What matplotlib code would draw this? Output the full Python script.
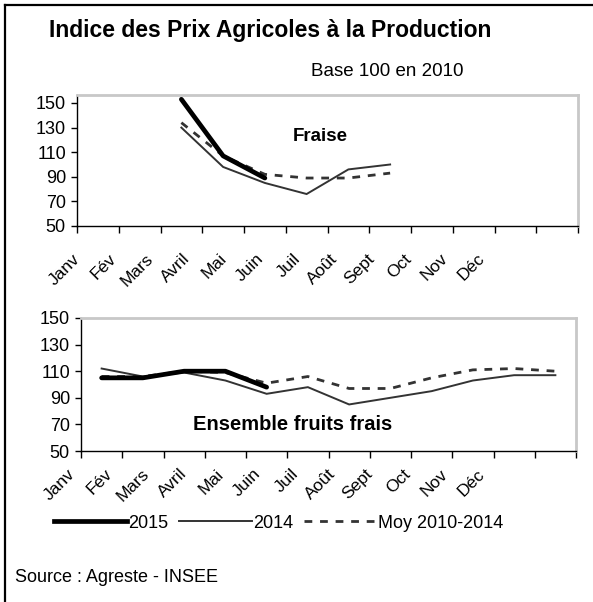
import matplotlib
matplotlib.use("Agg")
import matplotlib.pyplot as plt
from matplotlib.lines import Line2D
from matplotlib.transforms import offset_copy
import numpy as np

plt.rcParams['font.family'] = ['Liberation Sans', 'DejaVu Sans']

mois = ["Janv", "Fév", "Mars", "Avril", "Mai", "Juin", "Juil", "Août",
        "Sept", "Oct", "Nov", "Déc"]
yticks = [50, 70, 90, 110, 130, 150]

# Fraise (Mars -> ...)
fraise_2015 = [None, None, 153, 107, 89, None, None, None, None, None, None, None]
fraise_2014 = [None, None, 130, 98, 85, 76, 96, 100, None, None, None, None]
fraise_moy = [None, None, 134, 107, 92, 89, 89, 93, None, None, None, None]

# Ensemble fruits frais
fruits_2015 = [105, 105, 110, 110, 98, None, None, None, None, None, None, None]
fruits_2014 = [112, 106, 109, 103, 93, 98, 85, 90, 95, 103, 107, 107]
fruits_moy = [106, 106, 110, 109, 101, 106, 97, 97, 105, 111, 112, 110]

W, H = 593, 602
fig = plt.figure(figsize=(W / 100, H / 100), dpi=100)


def to_arr(v):
    return np.array([np.nan if x is None else x for x in v], dtype=float)


def make_ax(left, right, top, bottom, ymax, label_start, label_end, pad):
    ax = fig.add_axes([left / W, 1 - bottom / H, (right - left) / W, (bottom - top) / H])
    ax.set_yticks(yticks)
    ax.set_yticklabels([str(t) for t in yticks], fontsize=13)
    ax.tick_params(axis='y', length=4, width=1, pad=4, direction='out')
    ax.set_xticks(np.arange(-0.5, 12, 1))
    ax.set_xticklabels([])
    ax.tick_params(axis='x', length=5, width=1, direction='out')
    ax.set_xlim(-0.5, 11.5)
    ax.set_ylim(50, ymax)
    # month labels: Excel drew them slightly compressed to the left
    trans = offset_copy(ax.get_xaxis_transform(), fig=fig, y=-pad, units='points')
    for xpos, m in zip(np.linspace(label_start, label_end, 12), mois):
        ax.text(xpos, 0, m, transform=trans, rotation=45, ha='right', va='top',
                rotation_mode='anchor', fontsize=12.5, clip_on=False)
    for s in ['top', 'right']:
        ax.spines[s].set_color('#c8c8c8')
        ax.spines[s].set_linewidth(2)
    for s in ['left', 'bottom']:
        ax.spines[s].set_color('black')
        ax.spines[s].set_linewidth(1)
    return ax


def draw(ax, s2015, s2014, smoy):
    x = np.arange(12)
    ax.plot(x, to_arr(s2014), color='#333333', lw=1.4, solid_joinstyle='miter')
    ax.plot(x, to_arr(smoy), color='#333333', lw=2.0, dashes=(2.8, 2.8))
    ax.plot(x, to_arr(s2015), color='black', lw=3.4, solid_capstyle='round')


ax1 = make_ax(77, 578, 95, 226, 156.5, -0.62, 9.08, 18)
draw(ax1, fraise_2015, fraise_2014, fraise_moy)
ax1.text(0.43, 0.68, "Fraise", transform=ax1.transAxes, fontsize=13.5,
         fontweight='bold', ha='left', va='center')

ax2 = make_ax(81, 576, 318, 451, 150, -0.84, 9.1, 11)
draw(ax2, fruits_2015, fruits_2014, fruits_moy)
ax2.text(0.428, 0.2, "Ensemble fruits frais", transform=ax2.transAxes,
         fontsize=14.5, fontweight='bold', ha='center', va='center')

fig.text(270 / W, 1 - 30 / H, "Indice des Prix Agricoles à la Production",
         fontsize=16.5, fontweight='bold', ha='center', va='center')
fig.text(387 / W, 1 - 72 / H, "Base 100 en 2010", fontsize=13.5,
         ha='center', va='center')
fig.text(15 / W, 1 - 577 / H, "Source : Agreste - INSEE", fontsize=13,
         ha='left', va='center')

handles = [
    Line2D([], [], color='black', lw=3.4),
    Line2D([], [], color='#333333', lw=1.4),
    Line2D([], [], color='#333333', lw=2.0, dashes=(2.8, 2.8)),
]
fig.legend(handles, ["2015", "2014", "Moy 2010-2014"], ncol=3, frameon=False,
           loc='center', bbox_to_anchor=(279 / W, 1 - 523 / H), fontsize=13,
           handlelength=4.0, handletextpad=0.1, columnspacing=0.6)

# cadre extérieur
fig.add_artist(Line2D([5 / W, 1], [1 - 5 / H, 1 - 5 / H], color='black', lw=1.6,
                      transform=fig.transFigure))
fig.add_artist(Line2D([5 / W, 5 / W], [1 - 5 / H, 0], color='black', lw=1.6,
                      transform=fig.transFigure))

fig.savefig("out.png", dpi=100)
